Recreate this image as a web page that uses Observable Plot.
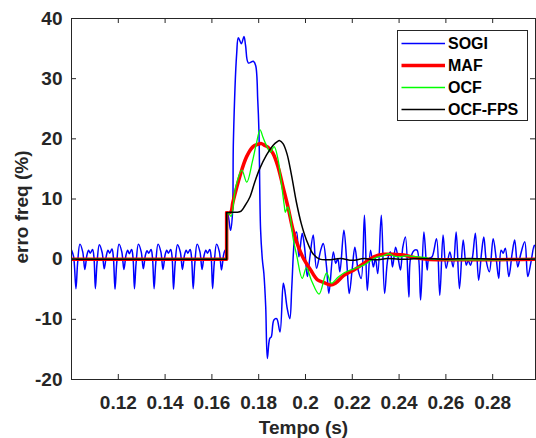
<!DOCTYPE html>
<html><head><meta charset="utf-8">
<script src="https://cdn.jsdelivr.net/npm/d3@7"></script>
<script src="https://cdn.jsdelivr.net/npm/@observablehq/plot@0.6"></script>
<style>html,body{margin:0;padding:0;background:#fff;} svg{display:block}</style>
</head><body><div id="chart"></div>
<script>
// ---- data ----
const seriesNames = ["SOGI", "MAF", "OCF", "OCF-FPS"];
const seriesColors = ["#0000ff", "#ff0000", "#00ff00", "#000000"];
const seriesWidths = [1.5, 3.5, 1.3, 1.5];

const xTicks = [0.12, 0.14, 0.16, 0.18, 0.2, 0.22, 0.24, 0.26, 0.28];
const xTickLabels = ["0.12", "0.14", "0.16", "0.18", "0.2", "0.22", "0.24", "0.26", "0.28"];
const yTicks = [-20, -10, 0, 10, 20, 30, 40];
const yTickLabels = ["-20", "-10", "0", "10", "20", "30", "40"];
const xDomain = [0.1, 0.2983];
const yDomain = [-20, 40];
const stepTime = 0.1663;

const sogiT = [0.1000,0.1009,0.1019,0.1026,0.1036,0.1048,0.1057,0.1066,0.1073,0.1080,0.1090,0.1096,
0.1102,0.1109,0.1119,0.1131,0.1140,0.1149,0.1156,0.1163,0.1173,0.1179,
0.1186,0.1193,0.1203,0.1215,0.1224,0.1233,0.1240,0.1247,0.1257,0.1263,
0.1269,0.1276,0.1286,0.1298,0.1307,0.1316,0.1323,0.1330,0.1340,0.1346,
0.1353,0.1360,0.1370,0.1382,0.1391,0.1400,0.1407,0.1414,0.1424,0.1430,
0.1436,0.1443,0.1453,0.1465,0.1474,0.1483,0.1490,0.1497,0.1507,0.1513,
0.1520,0.1527,0.1537,0.1549,0.1558,0.1567,0.1574,0.1581,0.1591,0.1597,
0.1603,0.1610,0.1620,0.1632,0.1641,0.1650,0.1656,0.1661,
0.1664,0.1667,0.1673,0.1680,0.1688,0.1692,0.1706,0.1713,0.1726,0.1737,0.1744,0.1756,0.1777,0.1787,0.1796,0.1801,
0.1808,0.1816,0.1822,0.1830,0.1837,0.1847,0.1854,0.1865,0.1877,0.1891,0.1905,0.1911,0.1922,0.1933,0.1941,0.1949,
0.1954,0.1962,0.1972,0.1986,0.1996,0.2008,0.2019,0.2033,0.2047,0.2065,0.2076,0.2090,0.2100,0.2119,0.2129,0.2138,
0.2147,0.2164,0.2176,0.2187,0.2200,0.2211,0.2225,0.2238,0.2252,0.2264,0.2278,0.2290,0.2299,0.2309,0.2324,0.2338,
0.2352,0.2363,0.2372,0.2385,0.2395,0.2406,0.2416,0.2427,0.2442,0.2449,0.2466,0.2477,0.2492,0.2506,0.2520,0.2527,
0.2541,0.2560,0.2574,0.2588,0.2601,0.2617,0.2631,0.2644,0.2658,0.2674,0.2687,0.2695,0.2705,0.2714,0.2726,0.2740,
0.2752,0.2762,0.2773,0.2786,0.2802,0.2815,0.2826,0.2836,0.2845,0.2854,0.2869,0.2883,0.2894,0.2907,0.2919,0.2937,
0.2950,0.2964,0.2978,0.2990];
const sogiV = [1.5,0.4,-4.9,-0.7,2.5,1.2,-1.7,0.7,1.5,1.0,1.6,0.3,
-4.9,-0.7,2.4,1.1,-1.6,0.6,1.5,1.0,1.7,0.3,
-5.0,-0.8,2.5,1.2,-1.7,0.7,1.5,0.9,1.6,0.2,
-4.9,-0.7,2.5,1.2,-1.6,0.7,1.4,1.0,1.6,0.3,
-4.9,-0.7,2.5,1.2,-1.7,0.7,1.5,1.0,1.6,0.3,
-5.0,-0.7,2.4,1.2,-1.7,0.7,1.5,1.0,1.6,0.3,
-4.9,-0.7,2.5,1.2,-1.7,0.7,1.5,1.0,1.6,0.3,
-4.9,-0.7,2.5,1.2,-1.8,0.7,1.5,0.8,
7.8,7.7,6.5,4.8,7.6,19.8,34.2,36.8,35.8,37.0,35.5,32.6,32.9,32.2,26.4,21.4,
5.0,-0.2,-2.3,-7.9,-16.5,-13.2,-12.9,-10.1,-9.9,-12.1,-4.0,-5.0,-8.2,-9.9,-5.0,1.5,
3.8,4.5,0.4,4.3,2.0,-2.9,0.4,4.0,-1.5,1.5,2.6,-1.3,-5.7,1.2,-0.7,0.1,
-2.1,4.8,-0.2,-5.7,-1.5,2.0,-1.8,-3.2,7.3,-5.2,1.5,-1.3,0.1,-2.4,7.3,-5.7,
0.1,1.2,-1.3,2.0,0.4,-1.8,2.0,3.7,-6.3,0.1,1.5,1.5,-6.8,4.5,-1.8,0.1,
0.4,3.4,-6.0,4.0,-1.5,1.2,-1.3,4.5,-4.9,3.2,-1.0,-0.2,-1.0,0.4,4.3,-3.5,
0.9,3.7,-0.4,-2.1,3.4,0.1,-3.2,1.5,1.0,1.8,-2.9,0.9,3.2,-1.3,0.7,2.9,
-2.9,-0.4,2.3,-0.5];

const mafT = [0.1000,0.1663,0.1663,0.1680,0.1690,0.1719,0.1748,0.1776,0.1797,0.1812,0.1826,0.1840,0.1861,0.1883,
0.1904,0.1925,0.1947,0.1968,0.1993,0.2022,0.2050,0.2079,0.2107,0.2128,0.2164,0.2207,0.2249,0.2292,0.2335,0.2377,
0.2420,0.2463,0.2520,0.2983];
const mafV = [0,0,7.7,7.8,9.5,13.7,17.0,18.7,19.1,19.2,18.9,18.6,17.6,15.3,
12.0,8.7,4.8,2.2,0.0,-1.8,-3.4,-3.9,-4.3,-4.0,-2.7,-1.8,-0.7,0.4,0.8,0.8,
0.7,0.3,0.0,0.0];

const ocfT = [0.1000,0.1663,0.1663,0.1672,0.1682,0.1702,0.1728,0.1749,0.1773,0.1790,0.1806,0.1818,0.1832,0.1850,
0.1866,0.1883,0.1894,0.1909,0.1914,0.1924,0.1935,0.1947,0.1963,0.1986,0.2004,0.2025,0.2058,0.2090,0.2111,0.2139,
0.2164,0.2207,0.2249,0.2292,0.2335,0.2357,0.2378,0.2406,0.2434,0.2449,0.2506,0.2548,0.2983];
const ocfV = [0,0,7.7,7.6,7.1,12.0,14.8,12.8,16.2,19.2,21.5,20.3,19.0,17.8,
18.7,16.5,13.5,9.0,7.8,8.7,7.0,3.5,0.5,-3.2,-1.4,-3.5,-5.8,-2.3,-4.0,-3.0,
-2.3,-1.6,-1.0,0.1,0.6,0.9,0.5,0.4,0.6,0.5,0.3,0.0,0.0];

const fpsT = [0.1000,0.1663,0.1663,0.1680,0.1710,0.1725,0.1740,0.1762,0.1783,0.1804,0.1833,0.1861,0.1878,0.1890,
0.1904,0.1921,0.1940,0.1961,0.1982,0.2004,0.2032,0.2061,0.2100,0.2150,0.2200,0.2250,0.2300,0.2350,0.2400,0.2500,
0.2600,0.2700,0.2800,0.2983];
const fpsV = [0,0,7.7,7.8,7.8,8.0,8.8,10.3,12.8,15.0,17.3,18.9,19.5,19.7,
19.2,17.5,14.0,9.5,5.9,3.2,0.9,0.0,-0.1,0.1,-0.2,0.1,-0.1,0.1,0.0,0.1,
0.0,0.1,0.0,0.0];

// ---- layout / style ----
const W = 536, H = 438;
const mL = 71, mR = 1, mT = 18, mB = 59;
const plotW = W - mL - mR, plotH = H - mT - mB;
const FONT = "'Liberation Sans', Arial, Helvetica, sans-serif";
const AX = "#262626";

function rows(ts, vs, name) { return ts.map((t, i) => ({t, v: vs[i], series: name})); }
const allSeries = [
  rows(sogiT, sogiV, seriesNames[0]),
  rows(mafT, mafV, seriesNames[1]),
  rows(ocfT, ocfV, seriesNames[2]),
  rows(fpsT, fpsV, seriesNames[3])
];

const lineMarks = [];
allSeries.forEach((data, k) => {
  const style = {x: "t", y: "v", stroke: seriesColors[k], strokeWidth: seriesWidths[k], clip: true, strokeLinejoin: "round"};
  if (k === 0) {
    lineMarks.push(Plot.line(data, {...style, curve: "catmull-rom"}));
  } else {
    const idx = data.map(d => d.t).lastIndexOf(stepTime);
    lineMarks.push(Plot.line(data.slice(0, idx + 1), {...style, curve: "linear"}));
    lineMarks.push(Plot.line(data.slice(idx), {...style, curve: "catmull-rom"}));
  }
});

function legendMark(index, scales, values, dims) {
  const g = d3.create("svg:g")
    .attr("font-family", FONT).attr("font-weight", "bold").attr("font-size", 16)
    .attr("text-anchor", "start");
  const right = dims.width - dims.marginRight - 8;
  const top = dims.marginTop + 12;
  const w = 130, h = 90, left = right - w;
  g.append("rect").attr("x", left + 0.5).attr("y", top + 0.5)
    .attr("width", w).attr("height", h)
    .attr("fill", "white").attr("stroke", AX).attr("stroke-width", 1);
  seriesNames.forEach((name, i) => {
    const y = top + 13.5 + i * 22;
    g.append("line").attr("x1", left + 4.5).attr("x2", left + 48).attr("y1", y).attr("y2", y)
      .attr("stroke", seriesColors[i]).attr("stroke-width", seriesWidths[i]);
    g.append("text").attr("x", left + 51).attr("y", y).attr("dy", "0.36em")
      .attr("text-anchor", "start").attr("fill", "#000").text(name);
  });
  return g.node();
}

const chart = Plot.plot({
  width: W, height: H,
  marginLeft: mL, marginRight: mR, marginTop: mT, marginBottom: mB,
  x: {domain: xDomain},
  y: {domain: yDomain},
  style: {fontFamily: FONT, background: "white", color: AX, overflow: "visible"},
  marks: [
    ...lineMarks,
    Plot.frame({stroke: AX, strokeWidth: 1}),
    Plot.tickX(xTicks, {x: d => d, insetTop: plotH - 5, stroke: AX}),
    Plot.tickX(xTicks, {x: d => d, insetBottom: plotH - 5, stroke: AX}),
    Plot.tickY(yTicks, {y: d => d, insetRight: plotW - 5, stroke: AX}),
    Plot.tickY(yTicks, {y: d => d, insetLeft: plotW - 5, stroke: AX}),
    Plot.axisX(xTicks, {tickSize: 0, tickPadding: 16, fontSize: 19, fontWeight: "bold", fill: AX,
      tickFormat: d => xTickLabels[xTicks.indexOf(d)], label: null}),
    Plot.axisY(yTicks, {tickSize: 0, tickPadding: 9, fontSize: 19, fontWeight: "bold", fill: AX,
      tickFormat: d => yTickLabels[yTicks.indexOf(d)], label: null}),
    Plot.text(["Tempo (s)"], {text: d => d, frameAnchor: "bottom", dy: 48, lineAnchor: "middle",
      fontSize: 19, fontWeight: "bold", fill: AX}),
    Plot.text(["erro freq (%)"], {text: d => d, frameAnchor: "left", dx: -50, dy: 8, rotate: -90,
      lineAnchor: "middle", textAnchor: "middle", fontSize: 19, fontWeight: "bold", fill: AX}),
    legendMark
  ]
});
document.getElementById("chart").appendChild(chart);
</script>
</body></html>
